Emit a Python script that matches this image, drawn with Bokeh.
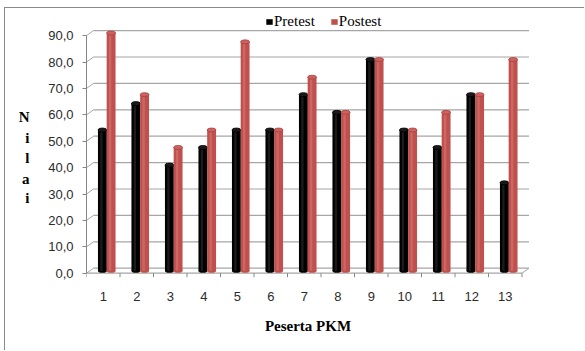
from bokeh.plotting import figure
from bokeh.models import Range1d, FixedTicker, Legend, LegendItem, LinearAxis
from bokeh.embed import file_html
from bokeh.resources import INLINE

# ---------------- data ----------------
participants = ["1", "2", "3", "4", "5", "6", "7", "8", "9", "10", "11", "12", "13"]
pretest = [53.3, 63.3, 40.0, 46.7, 53.3, 53.3, 66.7, 60.0, 80.0, 53.3, 46.7, 66.7, 33.3]
postest = [90.0, 66.7, 46.7, 53.3, 86.7, 53.3, 73.3, 60.0, 80.0, 53.3, 60.0, 66.7, 80.0]
series_names = ["Pretest", "Postest"]
y_ticks = [0, 10, 20, 30, 40, 50, 60, 70, 80, 90]
y_tick_labels = ["0,0", "10,0", "20,0", "30,0", "40,0", "50,0", "60,0", "70,0", "80,0", "90,0"]
x_title = "Peserta PKM"
y_title = "Nilai"

# ---------------- geometry / style ----------------
W, H = 580, 343
LEFT, RIGHT, TOP, BOTTOM = 81, 56, 0, 73
PX_X = 33.5                      # px per category
PX_Y = 2.64                      # px per value unit
n = len(participants)
frame_w = W - LEFT - RIGHT
frame_h = H - TOP - BOTTOM
x0 = 0.5
x1 = x0 + frame_w / PX_X
y0 = -2
y1 = y0 + frame_h / PX_Y

DX = 7 / PX_X    # 3-D depth offset (category units)
DY = 5 / PX_Y    # 3-D depth offset (value units)
XS = 3.5 / PX_X  # bars sit at mid depth
YS = 2.5 / PX_Y

AXIS_C = "#868686"
GRID_C = "#a6a6a6"
BLACK = "#000000"
RED = "#C0504D"

p = figure(width=W, height=H, x_range=Range1d(x0, x1), y_range=Range1d(y0, y1),
           output_backend="svg", toolbar_location=None,
           min_border_left=LEFT, min_border_right=RIGHT,
           min_border_top=TOP, min_border_bottom=BOTTOM)
p.xgrid.visible = False
p.ygrid.visible = False
p.outline_line_color = None
p.background_fill_color = "white"
p.border_fill_color = "white"
p.styles = {"margin-left": "4px", "margin-top": "7px",
            "border-left": "1px solid #8a8a8a", "border-top": "1px solid #8a8a8a"}

xs = [i + 1 for i in range(n)]
x_end = n + 0.5

# back wall gridlines
p.segment(x0=[x0 + DX] * len(y_ticks), y0=[t + DY for t in y_ticks],
          x1=[x_end + DX] * len(y_ticks), y1=[t + DY for t in y_ticks],
          line_color=GRID_C, line_width=1.2)
# side wall diagonals
p.segment(x0=[x0] * len(y_ticks), y0=y_ticks,
          x1=[x0 + DX] * len(y_ticks), y1=[t + DY for t in y_ticks],
          line_color=GRID_C, line_width=1)
# floor front edge + right diagonal
p.segment(x0=[x0], y0=[0], x1=[x_end], y1=[0], line_color=GRID_C, line_width=1.2)
p.segment(x0=[x_end], y0=[0], x1=[x_end + DX], y1=[DY], line_color=GRID_C, line_width=1)
# category boundary ticks
bx = [k + 0.5 for k in range(n + 1)]
p.segment(x0=bx, y0=[0] * len(bx), x1=bx, y1=[-4 / PX_Y] * len(bx),
          line_color=AXIS_C, line_width=1)

# ---------------- cylinders ----------------
BW = 0.265
OFF = 0.13
CAP = 4 / PX_Y

def cylinders(vals, dx, base, light, cap_fill, cap_line):
    cx = [x + XS + dx for x in xs]
    tops = [v + YS for v in vals]
    p.ellipse(x=cx, y=[YS] * n, width=BW, height=CAP, fill_color=base, line_color=None)
    r = p.vbar(x=cx, width=BW, bottom=YS, top=tops, fill_color=base, line_color=None)
    p.vbar(x=[c - 0.03 for c in cx], width=0.07, bottom=YS, top=tops,
           fill_color=light, line_color=None, fill_alpha=0.7)
    p.ellipse(x=cx, y=tops, width=BW, height=CAP, fill_color=cap_fill,
              line_color=cap_line, line_width=0.8)
    return r

r_pre = cylinders(pretest, -OFF, BLACK, "#262626", "#1a1a1a", "#000000")
r_post = cylinders(postest, OFF, RED, "#D2706D", "#CC625F", "#A8403D")

# ---------------- axes ----------------
yax = p.yaxis[0]
yax.ticker = FixedTicker(ticks=y_ticks)
yax.major_label_overrides = {t: l for t, l in zip(y_ticks, y_tick_labels)}
yax.bounds = (0, 90)
yax.axis_line_color = AXIS_C
yax.major_tick_line_color = AXIS_C
yax.major_tick_out = 4
yax.major_tick_in = 0
yax.minor_tick_line_color = None
yax.major_label_standoff = 9
yax.major_label_text_font = "Liberation Sans"
yax.major_label_text_font_size = "13px"
yax.major_label_text_color = "#2b2b2b"

# vertical, letter-stacked y title drawn as the labels of a bare outer axis
title_rows_px = [117, 138, 158, 179, 198]   # page y of each letter centre
zero_row_px = 273                             # page y of value 0
letter_pos = [(zero_row_px - r) / PX_Y for r in title_rows_px]
tax = LinearAxis(ticker=FixedTicker(ticks=letter_pos),
                 major_label_overrides={v: ch for v, ch in zip(letter_pos, y_title)})
tax.axis_line_color = None
tax.major_tick_line_color = None
tax.minor_tick_line_color = None
tax.major_tick_out = 0
tax.major_tick_in = 0
tax.major_label_standoff = 16
tax.major_label_text_font = "Liberation Serif"
tax.major_label_text_font_style = "bold"
tax.major_label_text_font_size = "15px"
tax.major_label_text_color = "#000000"
p.add_layout(tax, "left")

xax = p.xaxis[0]
xax.ticker = FixedTicker(ticks=xs)
xax.major_label_overrides = {x: lab for x, lab in zip(xs, participants)}
xax.axis_line_color = None
xax.major_tick_line_color = None
xax.minor_tick_line_color = None
xax.major_tick_out = 0
xax.major_tick_in = 0
xax.major_label_standoff = 13
xax.major_label_text_font = "Liberation Sans"
xax.major_label_text_font_size = "13px"
xax.major_label_text_color = "#2b2b2b"
xax.axis_label = x_title
xax.axis_label_text_font = "Liberation Serif"
xax.axis_label_text_font_style = "bold"
xax.axis_label_text_font_size = "15px"
xax.axis_label_text_color = "#000000"
xax.axis_label_standoff = 14

# ---------------- legend (inside the tall frame, above the back wall) ----------------
legend = Legend(items=[LegendItem(label=series_names[0], renderers=[r_pre]),
                       LegendItem(label=series_names[1], renderers=[r_post])],
                orientation="horizontal", location=(179, 248),
                glyph_width=8, glyph_height=7, label_standoff=1, spacing=15,
                padding=0, margin=0, label_height=16,
                border_line_color=None, background_fill_alpha=0,
                label_text_font="Liberation Serif", label_text_font_size="15px",
                label_text_color="#000000")
p.add_layout(legend)

open("out.html", "w").write(file_html(p, INLINE))
